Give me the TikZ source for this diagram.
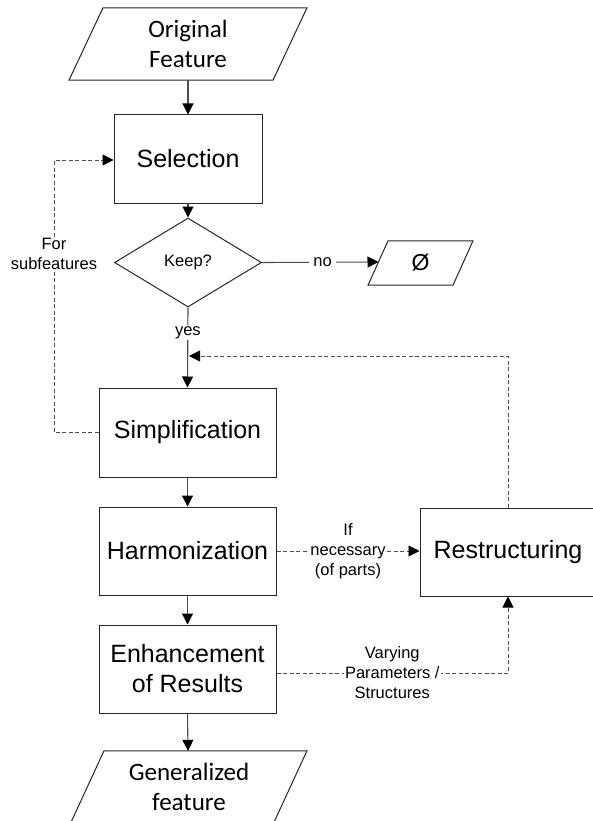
\documentclass[tikz,border=0pt]{standalone}
\usepackage{fontspec}
\setmainfont{Liberation Sans}
\newfontfamily\calibrifont{Carlito}
\usetikzlibrary{arrows.meta,calc,shapes.geometric}

% slanted data box drawn around a named text node: #1 node, #2 half width, #3 half slant
\newcommand\slantedbox[3]{%
  \draw[shapeline] ($(#1.north)+(#3-#2,0)$) -- ($(#1.north)+(#3+#2,0)$)
    -- ($(#1.south)+(#2-#3,0)$) -- ($(#1.south)+(-#2-#3,0)$) -- cycle;}

\begin{document}
\begin{tikzpicture}[x=1pt,y=-1pt,
  shapeline/.style={draw=black!85,line width=1pt},
  stepbox/.style={shapeline,minimum width=177pt,minimum height=89pt,inner sep=0pt,
    align=center,font=\fontsize{25}{30}\selectfont},
  datatext/.style={inner sep=0pt,align=center,minimum width=160pt,
    font=\calibrifont\fontsize{25}{30}\selectfont},
  conn/.style={draw=black!70,line width=1.1pt,
    -{Triangle[length=11pt,width=11pt,color=black]}},
  dconn/.style={conn,line width=0.9pt,dash pattern=on 4pt off 2.5pt},
  lbl/.style={fill=white,inner sep=1.5pt,align=center,
    font=\fontsize{16.5}{20}\selectfont}]

\useasboundingbox (0,0) rectangle (592,821);

% input and output data
\node[datatext,minimum height=72pt] (orig) at (188,44) {Original\\Feature};
\slantedbox{orig}{102}{17}
\node[datatext,minimum height=71pt] (gen) at (189,786.5) {Generalized\\feature};
\slantedbox{gen}{101.5}{16.5}
\node[inner sep=0pt,minimum width=60pt,minimum height=44pt,
  font=\fontsize{23}{26}\selectfont] (empty) at (420.5,263) {Ø};
\slantedbox{empty}{42.5}{10}
\coordinate (emptyin) at (378.5,262);

% processing steps
\node[stepbox,minimum width=148pt,minimum height=88pt] (sel) at (188,159) {Selection};
\node[shape=diamond,shapeline,minimum width=147pt,minimum height=89pt,inner sep=0pt,
  font=\fontsize{16.5}{20}\selectfont] (keep) at (188,262.5) {Keep?};
\node[stepbox] (simp) at (187.5,432.5) {Simplification};
\node[stepbox,minimum height=88pt] (harm) at (187.5,551) {Harmonization};
\node[stepbox,minimum height=88pt] (enh) at (187.5,669) {Enhancement\\of Results};
\node[stepbox,minimum width=176pt,minimum height=88pt] (restr) at (508,552) {Restructuring};

% main flow
\draw[conn] (orig.south) -- (sel.north);
\draw[conn] (sel.south) -- (keep.north);
\draw[conn] (keep.east) -- node[lbl,pos=0.52,inner xsep=4pt]{no} (emptyin);
\draw[conn] (keep.south) -- node[lbl,pos=0.31]{yes} (simp.north);
\draw[conn] (simp.south) -- (harm.north);
\draw[conn] (harm.south) -- (enh.north);
\draw[conn] (enh.south) -- ([xshift=-1pt]gen.north);

% feedback loops
\coordinate (merge) at (189,356);
\coordinate (lb) at (54,432.5);
\coordinate (lt) at (54,160);
\coordinate (ecorner) at (508,673);
\draw[dconn] (restr.north) |- (merge);
\draw[dconn] (simp.west) -- (lb) -- (lt) -- (sel.west |- lt);
\node[lbl] (subf) at (54,254) {For\\subfeatures};
\draw[dconn] (harm.east) -- node[lbl]{If\\necessary\\(of parts)} (harm.east -| restr.west);
\draw[dconn] (enh.east |- ecorner) -- node[lbl]{Varying\\Parameters /\\Structures} (ecorner) -- (restr.south);

\end{tikzpicture}
\end{document}
